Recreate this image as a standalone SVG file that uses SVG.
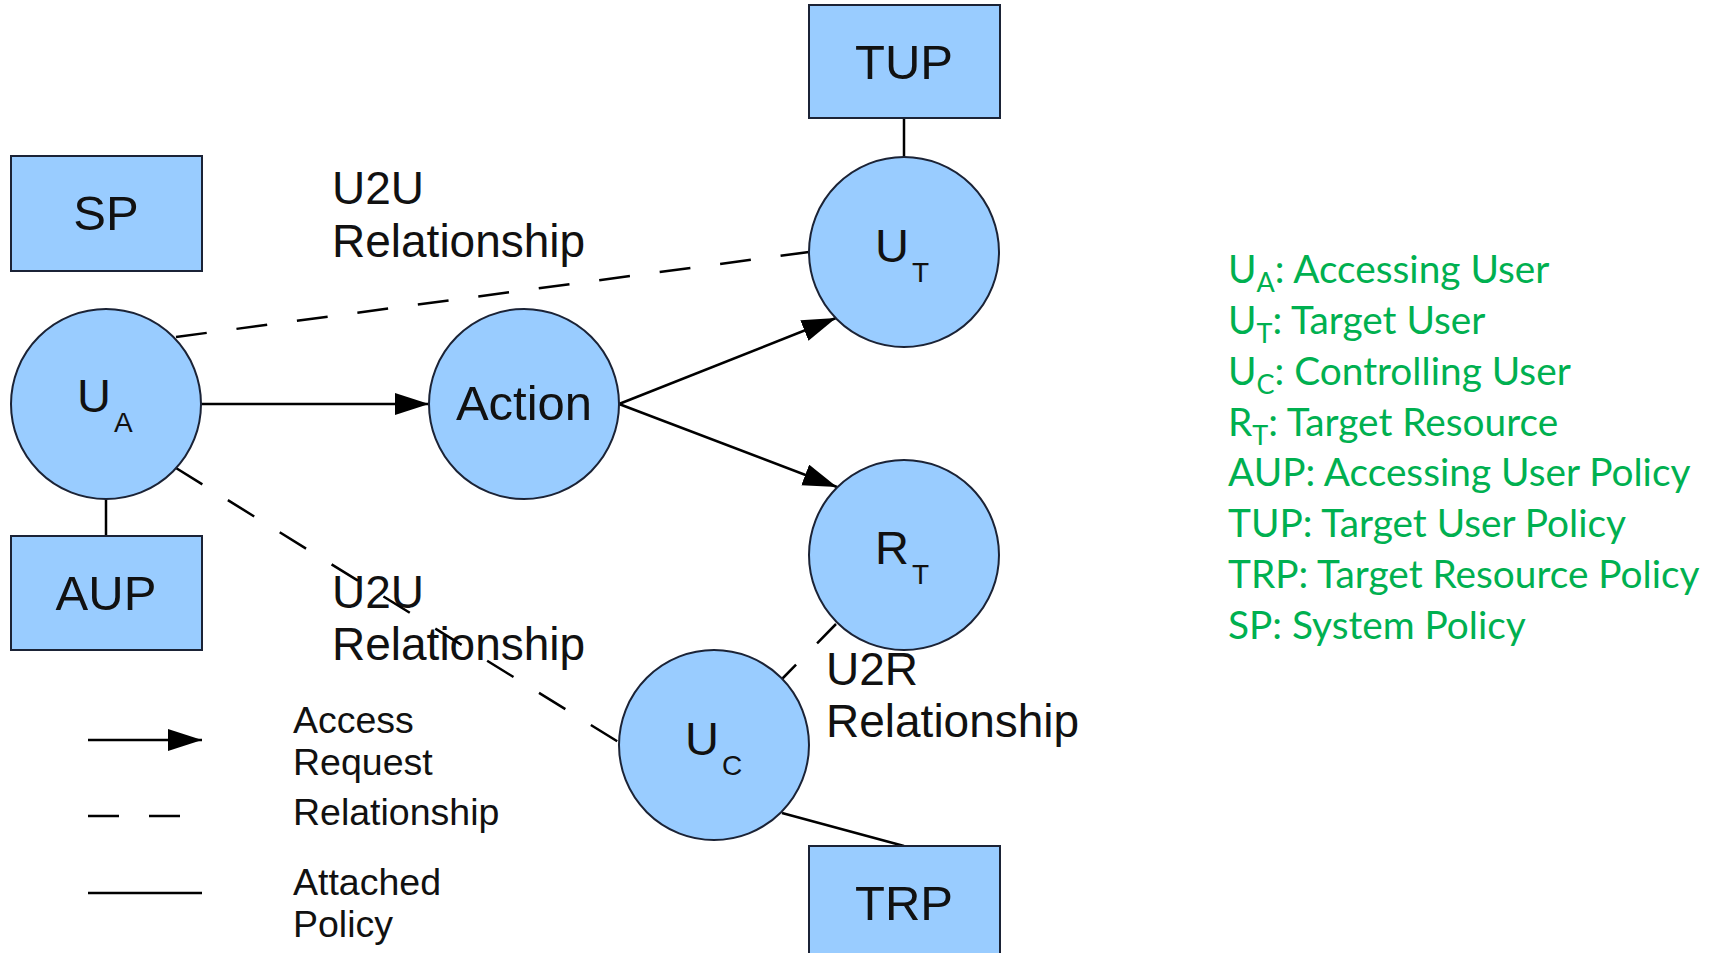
<svg xmlns="http://www.w3.org/2000/svg" width="1711" height="953" viewBox="0 0 1711 953">
  <style>
    .box { fill: #99CCFF; stroke: #1b2336; stroke-width: 2; }
    .node { fill: #99CCFF; stroke: #1b2336; stroke-width: 2; }
    .lbl { font-family: "Liberation Sans", Arial, sans-serif; fill: #111; }
    .big { font-size: 49px; text-anchor: middle; }
    .sym { font-size: 47px; }
    .sub { font-size: 28px; }
    .note { font-size: 46px; }
    .leg { font-size: 37.5px; }
    .line { stroke: #000; stroke-width: 2.5; fill: none; }
    .dash { stroke: #000; stroke-width: 2.5; fill: none; stroke-dasharray: 31 30; }
    .gloss { font-family: Lato, "Open Sans", sans-serif; font-size: 38.8px; fill: #00B050; }
    .gsub { font-size: 27px; }
  </style>
  <defs>
    <marker id="arrow" markerUnits="userSpaceOnUse" markerWidth="36" markerHeight="24" refX="34" refY="11" orient="auto">
      <path d="M0,0 L34,11 L0,22 z" fill="#000"/>
    </marker>
  </defs>

  <rect width="1711" height="953" fill="#fff"/>

  <!-- relationship labels -->
  <g id="labels" class="lbl note">
    <text x="332" y="204">U2U</text>
    <text x="332" y="257">Relationship</text>
    <text x="332" y="608">U2U</text>
    <text x="332" y="660">Relationship</text>
    <text x="826" y="685">U2R</text>
    <text x="826" y="737">Relationship</text>
  </g>

  <!-- connectors -->
  <g id="connectors">
    <line class="line" x1="106" y1="499" x2="106" y2="536"/>
    <line class="line" x1="904" y1="118" x2="904" y2="157"/>
    <line class="line" x1="782" y1="813" x2="904" y2="846"/>
    <line class="line" x1="201" y1="404" x2="429" y2="404" marker-end="url(#arrow)"/>
    <line class="line" x1="619" y1="404" x2="836" y2="318" marker-end="url(#arrow)"/>
    <line class="line" x1="619" y1="404" x2="837" y2="487" marker-end="url(#arrow)"/>
    <line class="dash" x1="176" y1="337" x2="809" y2="252"/>
    <line class="dash" x1="176" y1="468" x2="620" y2="743"/>
    <line class="dash" x1="836" y1="624" x2="782" y2="679" stroke-dashoffset="4"/>
  </g>

  <!-- policy boxes -->
  <g id="SP">
    <rect class="box" x="11" y="156" width="191" height="115"/>
    <text class="lbl big" x="106" y="230">SP</text>
  </g>
  <g id="AUP">
    <rect class="box" x="11" y="536" width="191" height="114"/>
    <text class="lbl big" x="106" y="610">AUP</text>
  </g>
  <g id="TUP">
    <rect class="box" x="809" y="5" width="191" height="113"/>
    <text class="lbl big" x="904" y="79">TUP</text>
  </g>
  <g id="TRP">
    <rect class="box" x="809" y="846" width="191" height="114"/>
    <text class="lbl big" x="904" y="920">TRP</text>
  </g>

  <!-- entity nodes -->
  <g id="UA">
    <circle class="node" cx="106" cy="404" r="95"/>
    <text class="lbl sym" x="77" y="412">U<tspan class="sub" dx="3" dy="20">A</tspan></text>
  </g>
  <g id="Action">
    <circle class="node" cx="524" cy="404" r="95"/>
    <text class="lbl big" x="524" y="420">Action</text>
  </g>
  <g id="UT">
    <circle class="node" cx="904" cy="252" r="95"/>
    <text class="lbl sym" x="875" y="262">U<tspan class="sub" dx="3" dy="20">T</tspan></text>
  </g>
  <g id="RT">
    <circle class="node" cx="904" cy="555" r="95"/>
    <text class="lbl sym" x="875" y="564">R<tspan class="sub" dx="3" dy="20">T</tspan></text>
  </g>
  <g id="UC">
    <circle class="node" cx="714" cy="745" r="95"/>
    <text class="lbl sym" x="685" y="755">U<tspan class="sub" dx="3" dy="20">C</tspan></text>
  </g>

  <!-- line-style key -->
  <g id="key">
    <line class="line" x1="88" y1="740" x2="202" y2="740" marker-end="url(#arrow)"/>
    <line class="dash" x1="88" y1="816" x2="180" y2="816"/>
    <line class="line" x1="88" y1="893" x2="202" y2="893"/>
    <g class="lbl leg">
      <text x="293" y="733">Access</text>
      <text x="293" y="775">Request</text>
      <text x="293" y="825">Relationship</text>
      <text x="293" y="895">Attached</text>
      <text x="293" y="937">Policy</text>
    </g>
  </g>

  <!-- abbreviation glossary -->
  <g id="glossary" class="gloss">
    <text x="1228" y="283">U<tspan class="gsub" dy="9">A</tspan><tspan dy="-9">: Accessing User</tspan></text>
    <text x="1228" y="334">U<tspan class="gsub" dy="9">T</tspan><tspan dy="-9">: Target User</tspan></text>
    <text x="1228" y="385">U<tspan class="gsub" dy="9">C</tspan><tspan dy="-9">: Controlling User</tspan></text>
    <text x="1228" y="436">R<tspan class="gsub" dy="9">T</tspan><tspan dy="-9">: Target Resource</tspan></text>
    <text x="1228" y="486">AUP: Accessing User Policy</text>
    <text x="1228" y="537">TUP: Target User Policy</text>
    <text x="1228" y="588">TRP: Target Resource Policy</text>
    <text x="1228" y="639">SP: System Policy</text>
  </g>
</svg>
